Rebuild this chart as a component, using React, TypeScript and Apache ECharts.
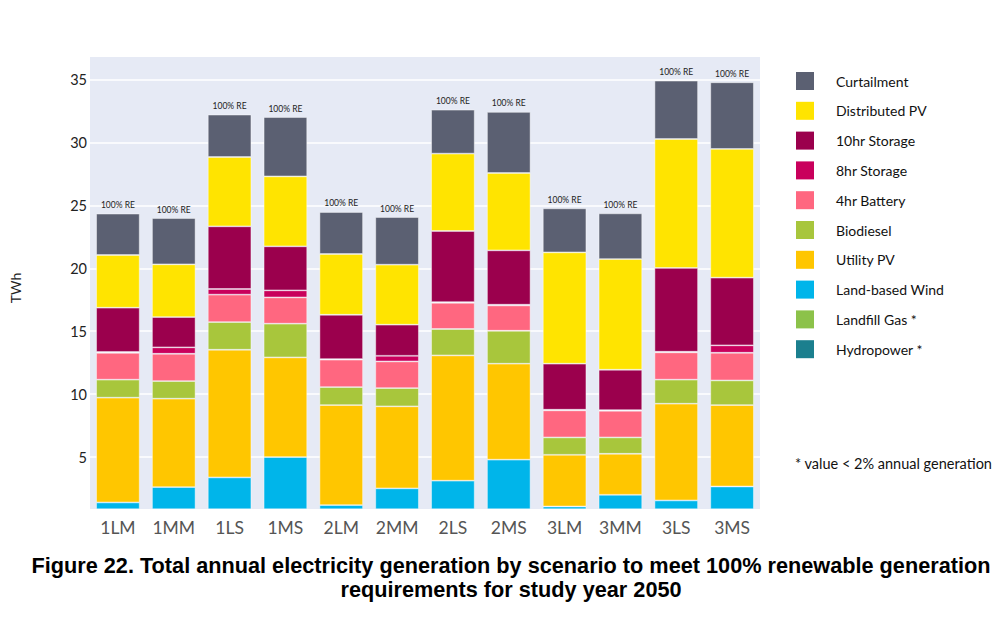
import React, { useEffect, useRef } from "react";
import * as echarts from "echarts";

const categories = ["1LM", "1MM", "1LS", "1MS", "2LM", "2MM", "2LS", "2MS", "3LM", "3MM", "3LS", "3MS"];

const hydropower = [0.35, 0.35, 0.35, 0.35, 0.35, 0.35, 0.35, 0.35, 0.35, 0.35, 0.35, 0.35];
const landfillGas = [0.5, 0.5, 0.5, 0.5, 0.5, 0.5, 0.5, 0.5, 0.5, 0.5, 0.5, 0.5];
const landWind = [0.54, 1.76, 2.53, 4.15, 0.33, 1.66, 2.27, 3.94, 0.22, 1.15, 0.7, 1.81];
const utilityPV = [8.33, 7.03, 10.15, 7.92, 7.95, 6.52, 9.96, 7.63, 4.11, 3.26, 7.69, 6.47];
const biodiesel = [1.43, 1.4, 2.2, 2.68, 1.43, 1.45, 2.1, 2.62, 1.38, 1.3, 1.91, 1.96];
const battery4 = [2.13, 2.17, 2.18, 2.09, 2.18, 2.12, 2.08, 2.01, 2.15, 2.12, 2.17, 2.2];
const storage8 = [0.07, 0.51, 0.45, 0.56, 0.05, 0.45, 0.06, 0.06, 0.05, 0.05, 0.05, 0.59];
const storage10 = [3.52, 2.41, 4.98, 3.5, 3.52, 2.47, 5.65, 4.32, 3.66, 3.21, 6.66, 5.38];
const distributedPV = [4.19, 4.19, 5.51, 5.56, 4.83, 4.77, 6.15, 6.15, 8.85, 8.8, 10.25, 10.23];
const curtailment = [3.29, 3.68, 3.37, 4.72, 3.34, 3.79, 3.49, 4.85, 3.5, 3.63, 4.64, 5.3];

const yTicks = [5, 10, 15, 20, 25, 30, 35];
const barLabel = "100% RE";

const seriesDefs = [
  { name: "Hydropower *", data: hydropower, color: "#1b7f8e" },
  { name: "Landfill Gas *", data: landfillGas, color: "#8cc24a" },
  { name: "Land-based Wind", data: landWind, color: "#00b5ea" },
  { name: "Utility PV", data: utilityPV, color: "#ffc600" },
  { name: "Biodiesel", data: biodiesel, color: "#a8c63c" },
  { name: "4hr Battery", data: battery4, color: "#ff6780" },
  { name: "8hr Storage", data: storage8, color: "#c9005c" },
  { name: "10hr Storage", data: storage10, color: "#9b004d" },
  { name: "Distributed PV", data: distributedPV, color: "#ffe400" },
  { name: "Curtailment", data: curtailment, color: "#5b6072" },
];

const FONT = "Lato";

export default function App() {
  const ref = useRef<HTMLDivElement>(null);
  useEffect(() => {
    if (!ref.current) return;
    const chart = echarts.init(ref.current, null, { renderer: "svg" });
    const series = seriesDefs.map((s, i) => ({
      type: "bar",
      name: s.name,
      stack: "total",
      data: s.data,
      barWidth: "78%",
      itemStyle: { color: s.color, borderColor: "rgba(255,255,255,0.55)", borderWidth: 0.8 },
      label:
        i === seriesDefs.length - 1
          ? {
              show: true,
              position: "top",
              distance: 4,
              formatter: barLabel,
              fontSize: 8.5,
              color: "#222",
              fontFamily: FONT,
            }
          : { show: false },
    }));
    chart.setOption({
      animation: false,
      backgroundColor: "#ffffff",
      grid: {
        left: 90,
        right: 240,
        top: 57,
        bottom: 131,
        show: true,
        backgroundColor: "#e6eaf5",
        borderWidth: 0,
      },
      xAxis: {
        type: "category",
        data: categories,
        axisLine: { show: false },
        axisTick: { show: false },
        axisLabel: { fontSize: 17.5, color: "#555", fontFamily: FONT, margin: 9 },
      },
      yAxis: {
        type: "value",
        min: 0.87,
        max: 36.8,
        axisLine: { show: false },
        axisTick: { show: false, customValues: yTicks },
        axisLabel: { fontSize: 14.5, color: "#222", fontFamily: FONT, margin: 3, customValues: yTicks },
        splitLine: { show: true, lineStyle: { color: "#ffffff", width: 1.5 } },
      },
      legend: {
        orient: "vertical",
        left: 796,
        top: 72,
        padding: 0,
        itemWidth: 18,
        itemHeight: 18,
        itemGap: 11.8,
        icon: "rect",
        data: seriesDefs.map((s) => s.name).reverse(),
        itemStyle: { borderWidth: 0 },
        textStyle: { fontSize: 14, color: "#111", fontFamily: FONT, padding: [0, 0, 0, 17] },
        selectedMode: false,
      },
      graphic: [
        {
          type: "text",
          x: 15,
          y: 288,
          rotation: Math.PI / 2,
          style: { text: "TWh", fontSize: 14, fill: "#222", fontFamily: FONT, textAlign: "center", textVerticalAlign: "middle" },
        },
        {
          type: "text",
          x: 795,
          y: 463,
          style: { text: "* value < 2% annual generation", fontSize: 14.5, fill: "#111", fontFamily: FONT, textAlign: "left", textVerticalAlign: "middle" },
        },
        {
          type: "text",
          x: 511,
          y: 576,
          style: {
            text: "Figure 22. Total annual electricity generation by scenario to meet 100% renewable generation",
            fontSize: 21.7,
            fontWeight: "bold",
            fill: "#000",
            fontFamily: "Liberation Sans",
            textAlign: "center",
            textVerticalAlign: "bottom",
          },
        },
        {
          type: "text",
          x: 511,
          y: 600,
          style: {
            text: "requirements for study year 2050",
            fontSize: 21.7,
            fontWeight: "bold",
            fill: "#000",
            fontFamily: "Liberation Sans",
            textAlign: "center",
            textVerticalAlign: "bottom",
          },
        },
      ],
      series,
    });
    return () => chart.dispose();
  }, []);
  return <div ref={ref} style={{ position: "fixed", left: 0, top: 0, width: 1000, height: 640, background: "#fff" }} />;
}
